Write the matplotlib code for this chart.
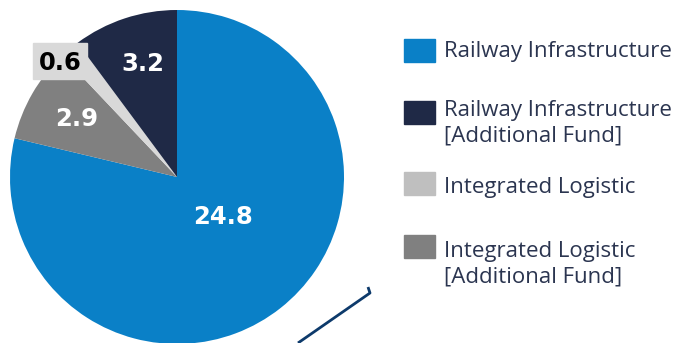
import matplotlib
matplotlib.use('Agg')
import matplotlib.pyplot as plt
from matplotlib.patches import Rectangle

# data (legend order)
labels = ['Railway Infrastructure', 'Railway Infrastructure\n[Additional Fund]',
          'Integrated Logistic', 'Integrated Logistic\n[Additional Fund]']
values = [24.8, 3.2, 0.6, 2.9]
slice_colors = ['#0a80c7', '#1f2946', '#d9d9d9', '#808080']
legend_colors = ['#0a80c7', '#1f2946', '#bfbfbf', '#808080']

W, H = 682, 343
fig = plt.figure(figsize=(W / 100, H / 100), dpi=100)
ax = fig.add_axes([0, 0, 1, 1])

# clockwise from top: blue, gray, light, navy
order = [0, 3, 2, 1]
cx, cy, r = 177, H - 177, 167
ax.pie([values[i] for i in order], colors=[slice_colors[i] for i in order],
       startangle=90, counterclock=False, center=(cx, cy), radius=r,
       wedgeprops=dict(linewidth=0), frame=True)
ax.set_xlim(0, W)
ax.set_ylim(0, H)
ax.set_aspect('equal')
ax.axis('off')

# value labels
lab_pos = [(223, 217), (143, 64), (60, 63), (77, 119)]
for i, (x, y) in enumerate(lab_pos):
    col = 'white'
    if i == 2:
        ax.add_patch(Rectangle((33, H - 79), 54, 36, color='#d9d9d9', zorder=3))
        col = 'black'
    ax.text(x, H - y, f'{values[i]}', ha='center', va='center', fontsize=17.5,
            fontweight='bold', color=col, zorder=4, family='DejaVu Sans')

# legend
sq_y = [50, 112, 183, 246]
txt_y = [52, 123, 187, 264]
for i in range(4):
    ax.add_patch(Rectangle((404, H - sq_y[i] - 11.5), 31, 23, color=legend_colors[i]))
    ax.text(444, H - txt_y[i], labels[i], ha='left', va='center', fontsize=16,
            color='#2b3550', linespacing=1.3, family='Open Sans')

# connector line
ax.plot([298, 370, 368], [H - 343, H - 293, H - 287], color='#0d3a6b', lw=2,
        solid_capstyle='butt', clip_on=False)

fig.savefig('out.png', dpi=100)
